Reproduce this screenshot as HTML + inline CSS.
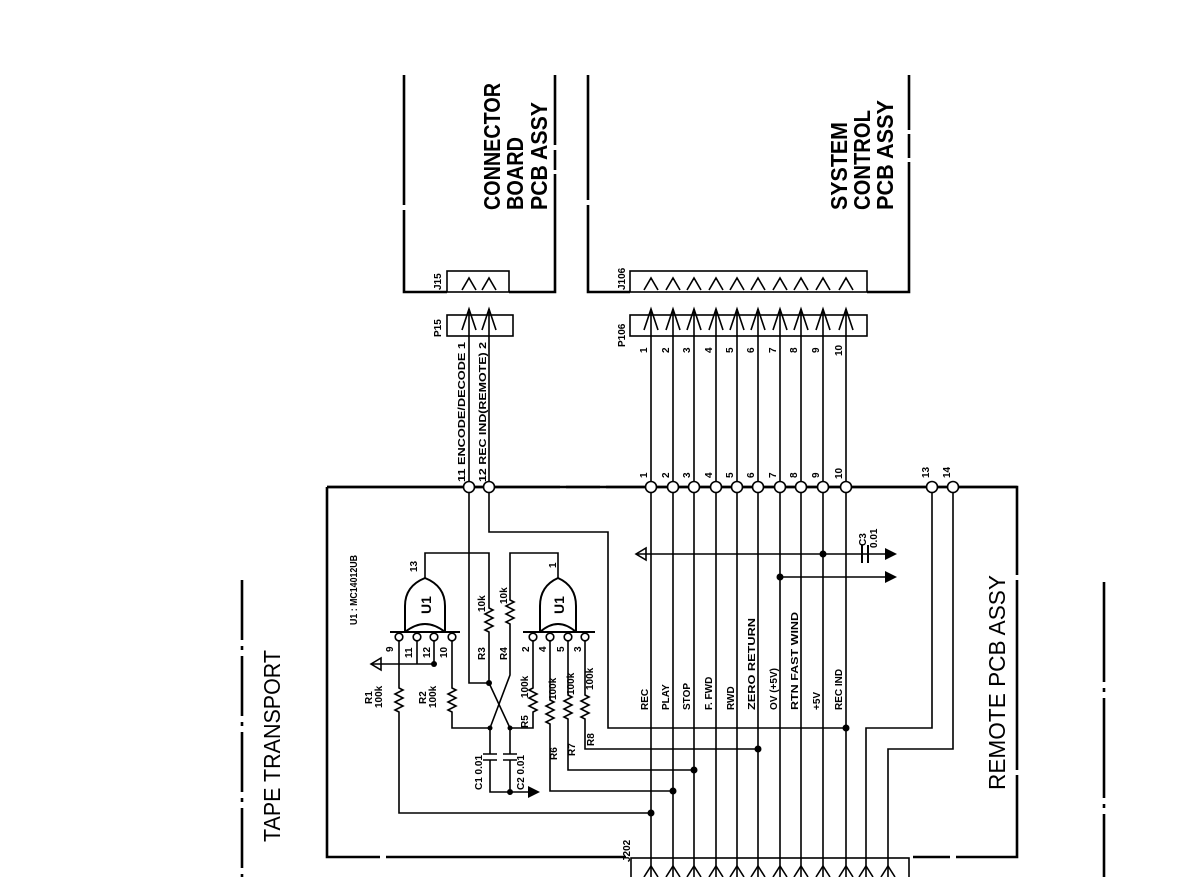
<!DOCTYPE html>
<html><head><meta charset="utf-8"><style>
html,body{margin:0;padding:0;background:#fff;width:1190px;height:877px;overflow:hidden}
svg{display:block}
text{font-family:"Liberation Sans",sans-serif;fill:#000;font-weight:bold}
text.n{font-weight:normal}
</style></head><body>
<svg width="1190" height="877" viewBox="0 0 1190 877" xmlns="http://www.w3.org/2000/svg">
<g fill="none" stroke="#000" stroke-width="2.6" stroke-linecap="butt">
<path d="M404 75 V292 H447 M509 292 H555 V75"/>
<path d="M588 75 V292 H630 M867 292 H909 V75"/>
<path d="M327 487 V857 H626 M913 857 H1017 V487 H327"/>
<path d="M242 580 V877" stroke-dasharray="60 6 4 6"/>
<path d="M1104 582 V877" stroke-dasharray="100 6 4 6"/>
</g>
<g stroke="#fff" stroke-width="4">
<path d="M404 205 V210 M555 145 V150 M555 170 V174 M588 200 V205 M909 130 V134 M909 158 V162 M1017 575 V580 M1017 770 V775 M600 487 H606 M560 487 H566 M380 857 H386 M950 857 H956"/>
</g>
<g fill="none" stroke="#000" stroke-width="1.6">
<rect x="447" y="271" width="62" height="21"/>
<rect x="447" y="315" width="66" height="21"/>
<rect x="630" y="271" width="237" height="21"/>
<rect x="630" y="315" width="237" height="21"/>
<rect x="631" y="858" width="278" height="30"/>
<path d="M462 290 L469 278 L476 290 M482 290 L489 278 L496 290"/>
<path d="M644 290 L651 278 L658 290 M666 290 L673 278 L680 290 M687 290 L694 278 L701 290 M709 290 L716 278 L723 290 M730 290 L737 278 L744 290 M751 290 L758 278 L765 290 M773 290 L780 278 L787 290 M794 290 L801 278 L808 290 M816 290 L823 278 L830 290 M839 290 L846 278 L853 290"/>
<path d="M462 330 L469 309 L476 330 M482 330 L489 309 L496 330"/>
<path d="M644 330 L651 309 L658 330 M666 330 L673 309 L680 330 M687 330 L694 309 L701 330 M709 330 L716 309 L723 330 M730 330 L737 309 L744 330 M751 330 L758 309 L765 330 M773 330 L780 309 L787 330 M794 330 L801 309 L808 330 M816 330 L823 309 L830 330 M839 330 L846 309 L853 330"/>
<path d="M644 877 L651 866 L658 877 M666 877 L673 866 L680 877 M687 877 L694 866 L701 877 M709 877 L716 866 L723 877 M730 877 L737 866 L744 877 M751 877 L758 866 L765 877 M773 877 L780 866 L787 877 M794 877 L801 866 L808 877 M816 877 L823 866 L830 877 M839 877 L846 866 L853 877 M859 877 L866 866 L873 877 M881 877 L888 866 L895 877"/>
<path d="M651 309 V877 M673 309 V877 M694 309 V877 M716 309 V877 M737 309 V877 M758 309 V877 M780 309 V877 M801 309 V877 M823 309 V877 M846 309 V877"/>
<path d="M469 309 V683 H489 M489 309 V532 H608 V728 H846"/>
<path d="M932 487 V728 H866 V877 M953 487 V749 H888 V877"/>
<path d="M636 554 H890 M780 577 H890"/>
<path d="M862 545 V563 M868 545 V563" stroke-width="2"/>
<path d="M405 632 V606 Q405 586 425 578 Q445 586 445 606 V632 M405 632 Q425 616 445 632" stroke-width="2"/>
<path d="M390 632 H460 M523 632 H595" stroke-width="2"/>
<path d="M540 632 V606 Q540 586 558 578 Q576 586 576 606 V632 M540 632 Q558 616 576 632" stroke-width="2"/>
<path d="M425 578 V553 H489 V608 l4,2 -8,4 8,4 -8,4 8,4 -8,4 4,2 V683 L510 728"/>
<path d="M558 578 V553 H510 V600 l4,2 -8,4 8,4 -8,4 8,4 -8,4 4,2 V675 L490 728"/>
<path d="M399 641 V688 l4,2 -8,4 8,4 -8,4 8,4 -8,4 4,2 V813 H651"/>
<path d="M417 641 V664 M434 641 V664 M371 664 H434"/>
<path d="M452 641 V688 l4,2 -8,4 8,4 -8,4 8,4 -8,4 4,2 V728 H490"/>
<path d="M510 728 H533 V712 l4,-2 -8,-4 8,-4 -8,-4 8,-4 -8,-4 4,-2 V641"/>
<path d="M490 728 V754 M483 754 H497 M483 760 H497 M490 760 V792 H530"/>
<path d="M510 728 V754 M503 754 H517 M503 760 H517 M510 760 V792"/>
<path d="M550 641 V700 l4,2 -8,4 8,4 -8,4 8,4 -8,4 4,2 V791 H673"/>
<path d="M568 641 V695 l4,2 -8,4 8,4 -8,4 8,4 -8,4 4,2 V770 H694"/>
<path d="M585 641 V695 l4,2 -8,4 8,4 -8,4 8,4 -8,4 4,2 V749 H758"/>
<path d="M371 664 l10,-6 v12 z"/>
<path d="M636 554 l10,-6 v12 z"/>
</g>
<path d="M327 487 H1017" stroke="#000" stroke-width="2.6" fill="none"/>
<g fill="#000" stroke="none">
<path d="M897 554 l-12,-6 v12 z M897 577 l-12,-6 v12 z M540 792 l-12,-6 v12 z"/>
<circle cx="823" cy="554" r="3.5"/><circle cx="780" cy="577" r="3.5"/>
<circle cx="489" cy="683" r="3"/><circle cx="510" cy="792" r="3"/><circle cx="434" cy="664" r="3"/>
<circle cx="846" cy="728" r="3.5"/><circle cx="758" cy="749" r="3.5"/><circle cx="694" cy="770" r="3.5"/><circle cx="673" cy="791" r="3.5"/><circle cx="651" cy="813" r="3.5"/>
<circle cx="490" cy="728" r="2.5"/><circle cx="510" cy="728" r="2.5"/>
</g>
<g fill="#fff" stroke="#000" stroke-width="1.6">
<circle cx="469" cy="487" r="5.5"/><circle cx="489" cy="487" r="5.5"/>
<circle cx="651" cy="487" r="5.5"/><circle cx="673" cy="487" r="5.5"/><circle cx="694" cy="487" r="5.5"/><circle cx="716" cy="487" r="5.5"/><circle cx="737" cy="487" r="5.5"/><circle cx="758" cy="487" r="5.5"/><circle cx="780" cy="487" r="5.5"/><circle cx="801" cy="487" r="5.5"/><circle cx="823" cy="487" r="5.5"/><circle cx="846" cy="487" r="5.5"/>
<circle cx="932" cy="487" r="5.5"/><circle cx="953" cy="487" r="5.5"/>
<circle cx="399" cy="637" r="3.8"/><circle cx="417" cy="637" r="3.8"/><circle cx="434" cy="637" r="3.8"/><circle cx="452" cy="637" r="3.8"/>
<circle cx="533" cy="637" r="3.8"/><circle cx="550" cy="637" r="3.8"/><circle cx="568" cy="637" r="3.8"/><circle cx="585" cy="637" r="3.8"/>
</g>
<g font-size="23">
<text transform="translate(500,210) rotate(-90)" textLength="127" lengthAdjust="spacingAndGlyphs">CONNECTOR</text>
<text transform="translate(523,210) rotate(-90)" textLength="73" lengthAdjust="spacingAndGlyphs">BOARD</text>
<text transform="translate(547,210) rotate(-90)" textLength="108" lengthAdjust="spacingAndGlyphs">PCB ASSY</text>
<text transform="translate(847,210) rotate(-90)" textLength="88" lengthAdjust="spacingAndGlyphs">SYSTEM</text>
<text transform="translate(870,210) rotate(-90)" textLength="100" lengthAdjust="spacingAndGlyphs">CONTROL</text>
<text transform="translate(893,210) rotate(-90)" textLength="110" lengthAdjust="spacingAndGlyphs">PCB ASSY</text>
<text class="n" transform="translate(280,842) rotate(-90)" textLength="192" lengthAdjust="spacingAndGlyphs">TAPE TRANSPORT</text>
<text class="n" transform="translate(1005,790) rotate(-90)" textLength="215" lengthAdjust="spacingAndGlyphs">REMOTE PCB ASSY</text>
</g>
<g font-size="10">
<text transform="translate(441,290) rotate(-90)">J15</text>
<text transform="translate(441,337) rotate(-90)">P15</text>
<text transform="translate(625,290) rotate(-90)">J106</text>
<text transform="translate(625,347) rotate(-90)">P106</text>
<text transform="translate(630,862) rotate(-90)">J202</text>
<text transform="translate(465,482) rotate(-90)" textLength="140" lengthAdjust="spacingAndGlyphs">11 ENCODE/DECODE 1</text>
<text transform="translate(486,482) rotate(-90)" textLength="140" lengthAdjust="spacingAndGlyphs">12 REC IND(REMOTE) 2</text>
<text transform="translate(647,353) rotate(-90)">1</text><text transform="translate(669,353) rotate(-90)">2</text><text transform="translate(690,353) rotate(-90)">3</text><text transform="translate(712,353) rotate(-90)">4</text><text transform="translate(733,353) rotate(-90)">5</text><text transform="translate(754,353) rotate(-90)">6</text><text transform="translate(776,353) rotate(-90)">7</text><text transform="translate(797,353) rotate(-90)">8</text><text transform="translate(819,353) rotate(-90)">9</text><text transform="translate(842,356) rotate(-90)">10</text>
<text transform="translate(647,478) rotate(-90)">1</text><text transform="translate(669,478) rotate(-90)">2</text><text transform="translate(690,478) rotate(-90)">3</text><text transform="translate(712,478) rotate(-90)">4</text><text transform="translate(733,478) rotate(-90)">5</text><text transform="translate(754,478) rotate(-90)">6</text><text transform="translate(776,478) rotate(-90)">7</text><text transform="translate(797,478) rotate(-90)">8</text><text transform="translate(819,478) rotate(-90)">9</text><text transform="translate(842,479) rotate(-90)">10</text>
<text transform="translate(929,478) rotate(-90)">13</text><text transform="translate(950,478) rotate(-90)">14</text>
<text transform="translate(648,710) rotate(-90)">REC</text>
<text transform="translate(669,710) rotate(-90)">PLAY</text>
<text transform="translate(690,710) rotate(-90)">STOP</text>
<text transform="translate(712,710) rotate(-90)">F. FWD</text>
<text transform="translate(734,710) rotate(-90)">RWD</text>
<text transform="translate(755,710) rotate(-90)" textLength="92" lengthAdjust="spacingAndGlyphs">ZERO RETURN</text>
<text transform="translate(777,710) rotate(-90)">OV (+5V)</text>
<text transform="translate(798,710) rotate(-90)" textLength="98" lengthAdjust="spacingAndGlyphs">RTN FAST WIND</text>
<text transform="translate(820,710) rotate(-90)">+5V</text>
<text transform="translate(842,710) rotate(-90)">REC IND</text>
<text transform="translate(866,546) rotate(-90)">C3</text>
<text transform="translate(877,548) rotate(-90)">0.01</text>
<text transform="translate(357,625) rotate(-90)" textLength="70" lengthAdjust="spacingAndGlyphs">U1 : MC14012UB</text>
<text transform="translate(417,572) rotate(-90)">13</text>
<text transform="translate(556,568) rotate(-90)">1</text>
<text transform="translate(393,652) rotate(-90)">9</text>
<text transform="translate(412,658) rotate(-90)">11</text>
<text transform="translate(430,658) rotate(-90)">12</text>
<text transform="translate(447,658) rotate(-90)">10</text>
<text transform="translate(529,652) rotate(-90)">2</text>
<text transform="translate(546,652) rotate(-90)">4</text>
<text transform="translate(564,652) rotate(-90)">5</text>
<text transform="translate(581,652) rotate(-90)">3</text>
<text transform="translate(372,704) rotate(-90)">R1</text><text transform="translate(382,708) rotate(-90)">100k</text>
<text transform="translate(426,704) rotate(-90)">R2</text><text transform="translate(436,708) rotate(-90)">100k</text>
<text transform="translate(485,660) rotate(-90)">R3</text><text transform="translate(485,612) rotate(-90)">10k</text>
<text transform="translate(507,660) rotate(-90)">R4</text><text transform="translate(507,604) rotate(-90)">10k</text>
<text transform="translate(528,728) rotate(-90)">R5</text><text transform="translate(528,698) rotate(-90)">100k</text>
<text transform="translate(557,760) rotate(-90)">R6</text><text transform="translate(556,700) rotate(-90)">100k</text>
<text transform="translate(575,756) rotate(-90)">R7</text><text transform="translate(574,695) rotate(-90)">100k</text>
<text transform="translate(594,746) rotate(-90)">R8</text><text transform="translate(593,690) rotate(-90)">100k</text>
<text transform="translate(482,790) rotate(-90)">C1 0.01</text>
<text transform="translate(524,790) rotate(-90)">C2 0.01</text>
<text transform="translate(431,614) rotate(-90)" font-size="14">U1</text>
<text transform="translate(564,614) rotate(-90)" font-size="14">U1</text>
</g>
</svg>
</body></html>
